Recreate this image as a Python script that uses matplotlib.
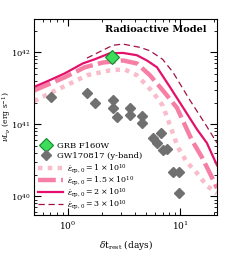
import matplotlib
matplotlib.use('Agg')
import matplotlib.pyplot as plt
import numpy as np

plt.rcParams['font.family'] = 'DejaVu Serif'
plt.rcParams['mathtext.fontset'] = 'dejavuserif'
plt.rcParams['font.size'] = 6

# GRB point
grb_t = [2.47]
grb_L = [8.7e41]

# GW170817 y-band
gw_t = [0.715, 1.48, 1.74, 2.52, 2.52, 2.74, 3.58, 3.58, 4.58, 4.58,
        5.74, 6.76, 6.24, 7.05, 7.66, 8.66, 9.8, 9.8]
gw_L = [2.4e41, 2.7e41, 2.0e41, 2.15e41, 1.67e41, 1.25e41, 1.7e41, 1.33e41, 1.29e41, 1.03e41,
        6.5e40, 7.5e40, 5.5e40, 4.4e40, 4.5e40, 2.15e40, 2.15e40, 1.1e40]

# models
t_1 = [0.5, 0.69, 0.98, 1.48, 2.37, 3.2, 4.13, 5.74, 7.05, 9.6, 11.5, 14.2, 17.4, 21.4]
L_1 = [2.1e41, 2.7e41, 3.5e41, 4.8e41, 5.6e41, 5.8e41, 4.8e41, 2.8e41, 1.8e41, 4.8e40, 3.0e40, 2.1e40, 1.4e40, 1.1e40]

t_15 = [0.5, 0.94, 1.42, 2.05, 3.1, 4.13, 5.4, 7.05, 9.4, 12.8, 15.7, 18.5, 21.4]
L_15 = [2.95e41, 4.5e41, 6.2e41, 7.2e41, 7.7e41, 7.0e41, 4.8e41, 2.95e41, 1.7e41, 6.0e40, 3.5e40, 2.1e40, 1.3e40]

t_2 = [0.5, 0.69, 0.94, 1.36, 1.74, 2.37, 3.1, 4.13, 5.07, 6.24, 8.14, 10.0, 14.2, 17.4, 21.4]
L_2 = [3.3e41, 4.1e41, 5.1e41, 7.0e41, 8.0e41, 9.7e41, 9.8e41, 9.1e41, 7.7e41, 6.2e41, 3.3e41, 2.0e41, 8.5e40, 5.5e40, 2.7e40]

t_3 = [1.48, 2.52, 3.1, 4.4, 5.4, 7.0, 8.66, 12.3, 16.7, 21.4]
L_3 = [8.3e41, 1.25e42, 1.3e42, 1.17e42, 1.05e42, 8.0e41, 5.3e41, 2.15e41, 1.03e41, 5.5e40]

fig = plt.figure(figsize=(2.4, 2.6), dpi=100)
ax = fig.add_axes([0.142, 0.173, 0.762, 0.754])

l1, = ax.plot(t_1, L_1, color='#f9bccb', lw=3.2, ls=(0, (1, 1.2)))
l15, = ax.plot(t_15, L_15, color='#f77fa6', lw=3.2, ls=(0, (4, 1.2)))
l2, = ax.plot(t_2, L_2, color='#e3116c', lw=1.6)
l3, = ax.plot(t_3, L_3, color='#a3104a', lw=0.9, ls=(0, (5, 3)))

gw, = ax.plot(gw_t, gw_L, ls='none', marker='D', ms=5.5, color='#707070')
grb, = ax.plot(grb_t, grb_L, ls='none', marker='D', ms=7, mfc='#3ddc5a', mec='#118a2a', mew=0.8)

ax.set_xscale('log')
ax.set_yscale('log')
ax.set_xlim(0.5, 21.4)
ax.set_ylim(5.5e39, 2.9e42)
ax.set_xlabel(r'$\delta$t$_{\rm rest}$ (days)', fontsize=6.5)
ax.set_ylabel(r'$\nu L_\nu$ (erg s$^{-1}$)', fontsize=5.5)
ax.yaxis.set_label_coords(-0.118, 0.5)
ax.tick_params(which='both', direction='in', top=True, right=True, labelsize=6.5)
ax.tick_params(axis='y', labelsize=6, pad=2.5)
ax.tick_params(which='major', length=5, width=0.8)
ax.tick_params(which='minor', length=2.5, width=0.6)

ax.text(0.945, 0.944, 'Radioactive Model', transform=ax.transAxes, ha='right', va='center',
        fontsize=7, fontweight='bold')

leg1 = ax.legend([grb, gw], ['GRB F160W', 'GW170817 (y-band)'], loc='upper left',
                 bbox_to_anchor=(0.0, 0.4), frameon=False, fontsize=6, handlelength=1.7,
                 labelspacing=0.25, borderaxespad=0.2, handletextpad=0.4)
ax.add_artist(leg1)
ax.legend([l1, l15, l2, l3],
          [r'$\dot{\epsilon}_{\rm rp,0} = 1 \times 10^{10}$',
           r'$\dot{\epsilon}_{\rm rp,0} = 1.5 \times 10^{10}$',
           r'$\dot{\epsilon}_{\rm rp,0} = 2 \times 10^{10}$',
           r'$\dot{\epsilon}_{\rm rp,0} = 3 \times 10^{10}$'],
          loc='lower left', bbox_to_anchor=(0.0, 0.0), frameon=False, fontsize=5.7,
          handlelength=3.1, labelspacing=-0.12, borderaxespad=0.15, handletextpad=0.5)

fig.savefig('out.png', dpi=100)
